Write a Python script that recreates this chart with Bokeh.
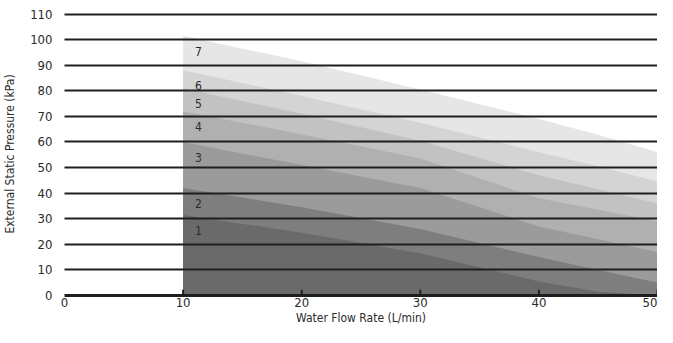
from bokeh.plotting import figure
from bokeh.models import Range1d, FixedTicker, ColumnDataSource
from bokeh.core.properties import value
from bokeh.embed import file_html
from bokeh.resources import INLINE

# ---- data ----
flow = [10, 20, 30, 40, 45, 50]                        # Water flow rate (L/min)
speed7 = [101.5, 91.5, 80.5, 69.0, 62.8, 56.0]         # External static pressure (kPa)
speed6 = [88.0, 78.0, 67.5, 56.0, 50.5, 44.5]
speed5 = [81.0, 71.0, 60.5, 47.0, 41.5, 36.0]
speed4 = [72.0, 63.0, 53.5, 38.0, 33.5, 29.0]
speed3 = [60.0, 51.0, 42.0, 27.0, 22.0, 17.0]
speed2 = [42.0, 34.5, 26.0, 15.0, 10.0, 5.0]
speed1 = [31.5, 24.5, 16.5, 5.5, 1.5, 0.0]
speed_names = ["7", "6", "5", "4", "3", "2", "1"]
y_ticks = [0, 10, 20, 30, 40, 50, 60, 70, 80, 90, 100, 110]
x_ticks = [0, 10, 20, 30, 40, 50]

curves = [speed7, speed6, speed5, speed4, speed3, speed2, speed1]
colors = ["#e6e6e6", "#d4d4d4", "#c2c2c2", "#b0b0b0", "#9b9b9b", "#7e7e7e", "#6a6a6a"]

FONT = "DejaVu Sans Condensed"
TXT = "#2b2b2b"

p = figure(width=657, height=327,
           x_range=Range1d(0, 50), y_range=Range1d(0, 110.6),
           output_backend="svg", toolbar_location=None,
           min_border_left=64, min_border_right=0,
           min_border_top=12, min_border_bottom=31)
p.outline_line_color = None
p.background_fill_color = "white"

for c, col in zip(curves, colors):
    p.varea(x=flow, y1=[0] * len(flow), y2=c, fill_color=col, fill_alpha=1)

# band labels near the top of each band at the first flow point
lab_src = ColumnDataSource(dict(
    x=[flow[0] + 1.3] * len(curves),
    y=[c[0] - 6 for c in curves],
    t=speed_names))
p.text(x="x", y="y", text="t", source=lab_src, text_align="center",
       text_baseline="middle", text_font_size="12px", text_color=TXT,
       text_font=value(FONT))

# small inside tick marks (none at the origin)
tick_x = x_ticks[1:]
p.segment(x0=tick_x, y0=[0] * len(tick_x), x1=tick_x, y1=[2.2] * len(tick_x),
          line_color="#1e1e1e", line_width=2)

# grid lines drawn above the shaded areas
p.xgrid.visible = False
p.ygrid.ticker = FixedTicker(ticks=y_ticks[1:])
p.ygrid.grid_line_color = "#1e1e1e"
p.ygrid.grid_line_width = 2
p.ygrid.level = "overlay"

# y axis
p.yaxis.ticker = FixedTicker(ticks=y_ticks)
p.yaxis.axis_line_color = None
p.yaxis.major_tick_line_color = None
p.yaxis.minor_tick_line_color = None
p.yaxis.major_label_standoff = 6
p.yaxis.axis_label = "External Static Pressure (kPa)"
p.yaxis.axis_label_standoff = 10

# x axis
p.xaxis.ticker = FixedTicker(ticks=x_ticks)
p.xaxis.axis_line_color = "#1e1e1e"
p.xaxis.axis_line_width = 3
p.xaxis.major_tick_line_color = None
p.xaxis.major_tick_in = 0
p.xaxis.major_tick_out = 0
p.xaxis.minor_tick_line_color = None
p.xaxis.minor_tick_in = 0
p.xaxis.minor_tick_out = 0
p.xaxis.major_label_standoff = 2
p.xaxis.axis_label = "Water Flow Rate (L/min)"
p.xaxis.axis_label_standoff = 1

for ax in (p.xaxis, p.yaxis):
    ax.major_label_text_font = FONT
    ax.major_label_text_font_size = "13px"
    ax.major_label_text_color = TXT
    ax.axis_label_text_font = FONT
    ax.axis_label_text_font_size = "12px"
    ax.axis_label_text_font_style = "normal"
    ax.axis_label_text_color = TXT

open("out.html", "w").write(file_html(p, INLINE))
